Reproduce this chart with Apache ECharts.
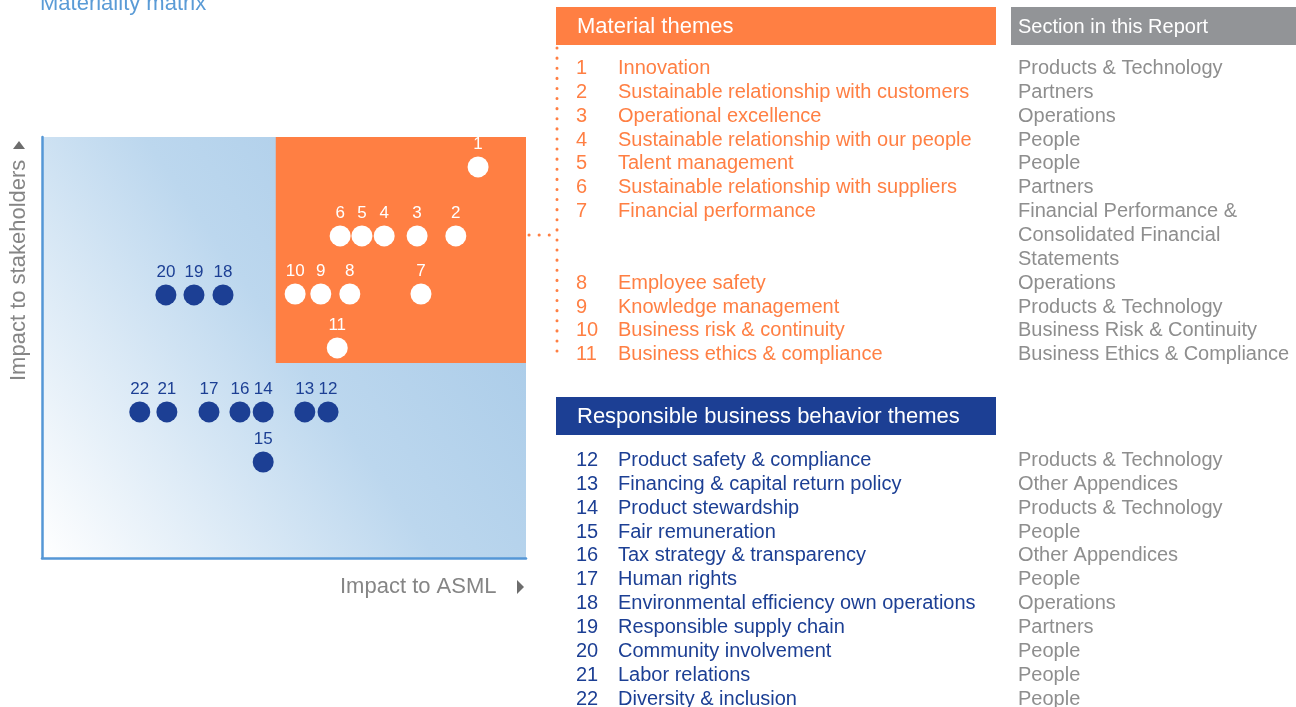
<!DOCTYPE html>
<html><head><meta charset="utf-8">
<script src="https://cdn.jsdelivr.net/npm/echarts@6/dist/echarts.min.js"></script>
<style>html,body{margin:0;padding:0;background:#fff}#c{width:1296px;height:707px}</style>
</head><body><div id="c"></div>
<script>
// ---- data ----
const materialIds = [1, 2, 3, 4, 5, 6, 7, 8, 9, 10, 11];
const materialX = [90.1, 85.5, 77.5, 70.7, 66.1, 61.6, 78.3, 63.6, 57.6, 52.3, 61.0];
const materialY = [92.9, 76.5, 76.5, 76.5, 76.5, 76.5, 62.7, 62.7, 62.7, 62.7, 49.9];
const responsibleIds = [12, 13, 14, 15, 16, 17, 18, 19, 20, 21, 22];
const responsibleX = [59.1, 54.3, 45.7, 45.7, 40.9, 34.5, 37.4, 31.4, 25.6, 25.8, 20.2];
const responsibleY = [34.7, 34.7, 34.7, 22.8, 34.7, 34.7, 62.5, 62.5, 62.5, 34.7, 34.7];
const materialZoneX = [48.3, 100];
const materialZoneY = [46.3, 100];

const materialThemes = ['Innovation', 'Sustainable relationship with customers', 'Operational excellence',
  'Sustainable relationship with our people', 'Talent management', 'Sustainable relationship with suppliers',
  'Financial performance', 'Employee safety', 'Knowledge management', 'Business risk & continuity',
  'Business ethics & compliance'];
const materialSections = ['Products & Technology', 'Partners', 'Operations', 'People', 'People', 'Partners',
  'Financial Performance &\nConsolidated Financial\nStatements', 'Operations', 'Products & Technology',
  'Business Risk & Continuity', 'Business Ethics & Compliance'];
const responsibleThemes = ['Product safety & compliance', 'Financing & capital return policy', 'Product stewardship',
  'Fair remuneration', 'Tax strategy & transparency', 'Human rights', 'Environmental efficiency own operations',
  'Responsible supply chain', 'Community involvement', 'Labor relations', 'Diversity & inclusion'];
const responsibleSections = ['Products & Technology', 'Other Appendices', 'Products & Technology', 'People',
  'Other Appendices', 'People', 'Operations', 'Partners', 'People', 'People', 'People'];

const titleText = 'Materiality matrix';
const xName = 'Impact to ASML';
const yName = 'Impact to stakeholders';
const headers = ['Material themes', 'Section in this Report', 'Responsible business behavior themes'];

// ---- styles ----
const ORANGE = '#ff7f43', BLUE = '#1c3f94', GREY = '#929497', TXTGREY = '#8e8e8e', AXIS = '#5597d6';
const FONT = '"Liberation Sans", Arial, sans-serif';

const chart = echarts.init(document.getElementById('c'));
const graphic = [];

graphic.push({ type: 'text', x: 40, y: 4, style: { text: titleText, fill: '#5a9bd6', font: '22px ' + FONT, verticalAlign: 'middle' } });
graphic.push({ type: 'text', x: 340, y: 587, style: { text: xName, fill: '#858585', font: '22px ' + FONT, verticalAlign: 'middle' } });
graphic.push({ type: 'polygon', shape: { points: [[517, 580], [524, 587], [517, 594]] }, style: { fill: '#6d6d6d' } });
graphic.push({ type: 'text', x: 19, y: 381, rotation: Math.PI / 2, style: { text: yName, fill: '#858585', font: '22px ' + FONT, verticalAlign: 'middle', align: 'left' } });
graphic.push({ type: 'polygon', shape: { points: [[13, 149], [19, 141], [25, 149]] }, style: { fill: '#6d6d6d' } });

// dotted connector
graphic.push({ type: 'polyline', shape: { points: [[529, 235], [553, 235]] }, style: { stroke: ORANGE, lineWidth: 3, lineDash: [0.1, 10], lineCap: 'round', fill: null } });
graphic.push({ type: 'polyline', shape: { points: [[557, 48], [557, 358]] }, style: { stroke: ORANGE, lineWidth: 3, lineDash: [0.1, 10], lineCap: 'round', fill: null } });

// headers
graphic.push({ type: 'rect', shape: { x: 556, y: 7, width: 440, height: 38 }, style: { fill: ORANGE } });
graphic.push({ type: 'text', x: 577, y: 27, style: { text: headers[0], fill: '#fff', font: '22px ' + FONT, verticalAlign: 'middle' } });
graphic.push({ type: 'rect', shape: { x: 1011, y: 7, width: 285, height: 38 }, style: { fill: GREY } });
graphic.push({ type: 'text', x: 1018, y: 27, style: { text: headers[1], fill: '#fff', font: '20px ' + FONT, verticalAlign: 'middle' } });
graphic.push({ type: 'rect', shape: { x: 556, y: 397, width: 440, height: 38 }, style: { fill: BLUE } });
graphic.push({ type: 'text', x: 577, y: 417, style: { text: headers[2], fill: '#fff', font: '22px ' + FONT, verticalAlign: 'middle' } });

function addRows(ids, themes, sections, y0, color) {
  const lh = 23.85;
  let y = y0;
  ids.forEach((id, i) => {
    graphic.push({ type: 'text', x: 576, y: y, style: { text: String(id), fill: color, font: '20px ' + FONT, verticalAlign: 'middle' } });
    graphic.push({ type: 'text', x: 618, y: y, style: { text: themes[i], fill: color, font: '20px ' + FONT, verticalAlign: 'middle' } });
    const lines = sections[i].split('\n');
    lines.forEach((ln, k) => {
      graphic.push({ type: 'text', x: 1018, y: y + k * lh, style: { text: ln, fill: TXTGREY, font: '20px ' + FONT, verticalAlign: 'middle' } });
    });
    y += lines.length * lh;
  });
}
addRows(materialIds, materialThemes, materialSections, 68.5, ORANGE);
addRows(responsibleIds, responsibleThemes, responsibleSections, 460.5, BLUE);

const mat = materialIds.map((id, i) => [materialX[i], materialY[i], id]);
const resp = responsibleIds.map((id, i) => [responsibleX[i], responsibleY[i], id]);

chart.setOption({
  animation: false,
  grid: {
    left: 42, top: 137, right: 770, bottom: 149, show: true, borderWidth: 0,
    backgroundColor: new echarts.graphic.LinearGradient(0, 1, 1, 0.2, [
      { offset: 0, color: '#ffffff' },
      { offset: 0.55, color: '#bcd7ee' },
      { offset: 1, color: '#a6c9e7' }
    ])
  },
  xAxis: { type: 'value', min: 0, max: 100, axisLine: { show: true, lineStyle: { color: AXIS, width: 2.5 } },
    axisTick: { show: false }, axisLabel: { show: false }, splitLine: { show: false } },
  yAxis: { type: 'value', min: 0, max: 100, axisLine: { show: true, lineStyle: { color: AXIS, width: 2.5 } },
    axisTick: { show: false }, axisLabel: { show: false }, splitLine: { show: false } },
  series: [
    { type: 'scatter', data: [], z: 1, silent: true,
      markArea: { silent: true, itemStyle: { color: ORANGE, opacity: 1 },
        data: [[{ coord: [materialZoneX[0], materialZoneY[0]] }, { coord: [materialZoneX[1], materialZoneY[1]] }]] } },
    { type: 'scatter', data: mat, z: 3, symbolSize: 21, itemStyle: { color: '#ffffff', opacity: 1 },
      label: { show: true, position: 'top', distance: 4, formatter: p => p.data[2], color: '#ffffff', fontSize: 17, fontFamily: FONT } },
    { type: 'scatter', data: resp, z: 3, symbolSize: 21, itemStyle: { color: BLUE, opacity: 1 },
      label: { show: true, position: 'top', distance: 4, formatter: p => p.data[2], color: BLUE, fontSize: 17, fontFamily: FONT } }
  ],
  graphic: graphic
});
</script>
</body></html>
